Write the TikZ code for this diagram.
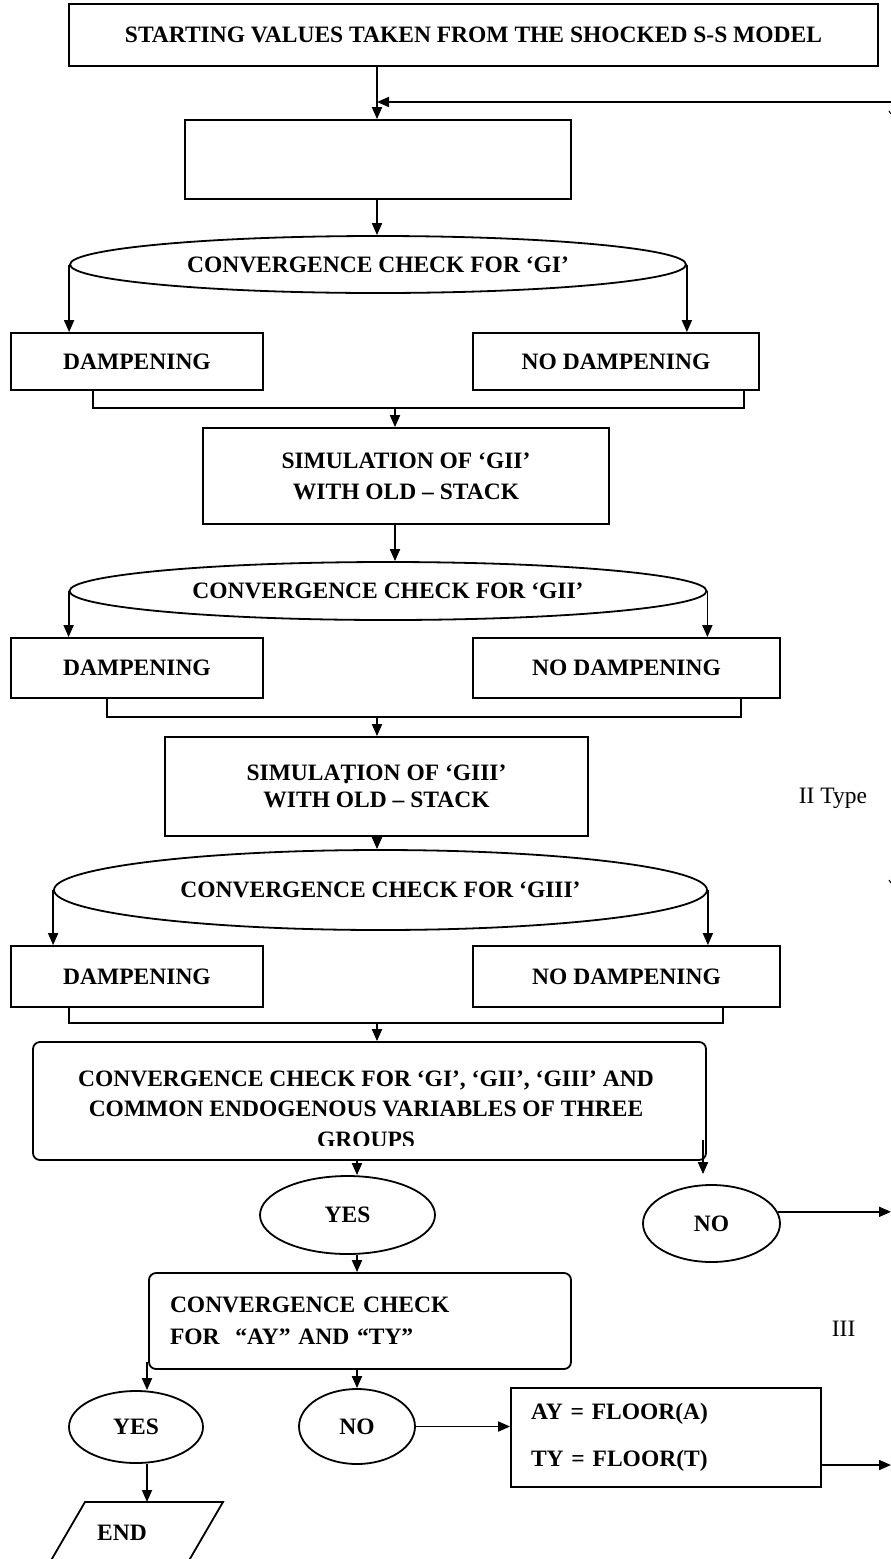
\documentclass[tikz,border=0pt]{standalone}
\usepackage{fontspec}
\setmainfont{Liberation Serif}
\usetikzlibrary{arrows.meta,shapes.geometric}
\newcommand\bxfont{\fontsize{23.5}{30}\selectfont\bfseries}
\newcommand\rgfont{\fontsize{23.5}{30}\selectfont}
\begin{document}
\begin{tikzpicture}[x=1pt,y=-1pt,line width=1.8pt,
  box/.style={draw,rectangle,inner sep=0pt,font=\bxfont,align=center},
  rbox/.style={box,rounded corners=7pt},
  oval/.style={draw,ellipse,inner sep=0pt,font=\bxfont},
  arr/.style={-{Triangle[length=12pt,width=10pt]}},
  plain/.style={inner sep=0pt,font=\rgfont}]
\clip (0,0) rectangle (891,1559);

% top
\node[box,minimum width=809,minimum height=62] (top) at (473.5,35) {STARTING VALUES TAKEN FROM THE SHOCKED S-S MODEL};
\node[box,minimum width=386,minimum height=79] (b2) at (378,159.5) {};
\coordinate (fb) at (891,102);
\draw[arr] (top.south -| 377,0) -- (b2.north -| 377,0);
\draw[arr] (fb) -- (fb -| 377,0);
\draw[line width=1pt] (889,111) -- (891,114);

% GI
\node[oval,minimum width=616,minimum height=57] (e1) at (378,264.5) {CONVERGENCE CHECK FOR ‘GI’};
\draw[arr] (b2.south -| 377,0) -- (e1.north -| 377,0);
\node[box,minimum width=252,minimum height=57] (d1) at (137,361.5) {DAMPENING};
\node[box,minimum width=286,minimum height=57] (n1) at (616,361.5) {NO DAMPENING};
\draw[arr] (e1.west) -- (e1.west |- d1.north);
\draw[arr] (e1.east) -- (e1.east |- n1.north);
\coordinate (c1l) at (93,408);
\coordinate (c1r) at (744,408);
\coordinate (c1m) at (395,408);
\draw (d1.south -| c1l) -- (c1l) -- (c1r) -- (n1.south -| c1r);

% GII
\node[box,minimum width=406,minimum height=96,font=\fontsize{23.5}{31}\selectfont\bfseries] (s2) at (406,476) {SIMULATION OF ‘GII’\\WITH OLD – STACK};
\draw[arr] (c1m) -- (c1m |- s2.north);
\node[oval,minimum width=637,minimum height=58] (e2) at (388,591) {CONVERGENCE CHECK FOR ‘GII’};
\draw[arr] (c1m |- s2.south) -- (c1m |- e2.north);
\node[box,minimum width=252,minimum height=60] (d2) at (137,668) {DAMPENING};
\node[box,minimum width=307,minimum height=60] (n2) at (626.5,668) {NO DAMPENING};
\draw[arr] (e2.west) -- (e2.west |- d2.north);
\draw[arr] (e2.east) -- (e2.east |- n2.north);
\coordinate (c2l) at (107,717);
\coordinate (c2r) at (741,717);
\coordinate (c2m) at (377,717);
\draw (d2.south -| c2l) -- (c2l) -- (c2r) -- (n2.south -| c2r);

% GIII
\node[box,minimum width=423,minimum height=99,font=\fontsize{23.5}{27}\selectfont\bfseries] (s3) at (376.5,786.5) {SIMULA\rlap{\hspace{0.12em}\raisebox{-0.14em}[0pt][0pt]{.}}TION OF ‘GIII’\\WITH OLD – STACK};
\draw[arr] (c2m) -- (c2m |- s3.north);
\node[plain,anchor=base west] (t2) at (798,803) {II Type};
\node[oval,minimum width=653,minimum height=80] (e3) at (380.5,890) {CONVERGENCE CHECK FOR ‘GIII’};
\draw[arr] (c2m |- s3.south) -- (c2m |- e3.north);
\draw[line width=1pt] (889,880) -- (891,883);
\node[box,minimum width=252,minimum height=61] (d3) at (137,976.5) {DAMPENING};
\node[box,minimum width=307,minimum height=61] (n3) at (626.5,976.5) {NO DAMPENING};
\draw[arr] (e3.west) -- (e3.west |- d3.north);
\draw[arr] (e3.east) -- (e3.east |- n3.north);
\coordinate (c3l) at (69,1023);
\coordinate (c3r) at (723,1023);
\coordinate (c3m) at (377,1023);
\draw (d3.south -| c3l) -- (c3l) -- (c3r) -- (n3.south -| c3r);

% overall check
\node[rbox,minimum width=673,minimum height=118] (big) at (369.5,1101) {};
\draw[arr] (c3m) -- (c3m |- big.north);
\begin{scope}
\clip (34,1043) rectangle (705,1145);
\node[inner sep=0pt,align=center,font=\fontsize{23.5}{30.5}\selectfont\bfseries] (bigt) at (366,1109) {CONVERGENCE CHECK FOR ‘GI’, ‘GII’, ‘GIII’ AND\\COMMON ENDOGENOUS VARIABLES OF THREE\\GROUPS};
\end{scope}
\node[oval,minimum width=175,minimum height=78] (yes) at (347.5,1215) {YES};
\node[oval,minimum width=137,minimum height=77] (no) at (711.5,1223.5) {NO};
\coordinate (a4) at (357,1160);
\draw[arr] (a4) -- (a4 |- yes.north);
\coordinate (a5) at (703,1140);
\draw[arr,shorten >=10pt] (a5) -- (a5 |- no.north);
\coordinate (e1r) at (891,1216);
\draw[arr] (no.10) -- (no.10 -| e1r);

% AY TY
\node[rbox,minimum width=422,minimum height=96,align=left,text width=380,font=\fontsize{23.5}{32}\selectfont\bfseries] (ay) at (360,1321) {CONVERGENCE CHECK\\FOR\ \ “AY” AND “TY”};
\draw[arr] (yes.south -| a4) -- (a4 |- ay.north);
\node[plain,anchor=base west] (t3) at (831,1336) {III};
\node[oval,minimum width=134,minimum height=72] (yes2) at (136,1427) {YES};
\node[oval,minimum width=116,minimum height=75] (no2) at (357,1426.5) {NO};
\coordinate (a6) at (147,1362);
\draw[arr] (a6) -- (a6 |- yes2.north);
\draw[arr] (no2.north |- ay.south) -- (no2.north);
\node[box,minimum width=310,minimum height=99,align=left,text width=270,font=\fontsize{23.5}{47}\selectfont\bfseries] (fl) at (666,1437.5) {AY = FLOOR(A)\\TY = FLOOR(T)};
\draw[arr] (no2.east) -- (no2.east -| fl.west);
\coordinate (e2r) at (891,1465);
\draw[arr] (fl.east |- e2r) -- (e2r);

% END
\coordinate (endtop) at (147,1502);
\draw (85,1502) -- (223,1502) -- (166,1600) -- (28,1600) -- cycle;
\node[inner sep=0pt,font=\bxfont] (endn) at (122,1533) {END};
\draw[arr] (a6 |- yes2.south) -- (endtop);
\end{tikzpicture}
\end{document}
